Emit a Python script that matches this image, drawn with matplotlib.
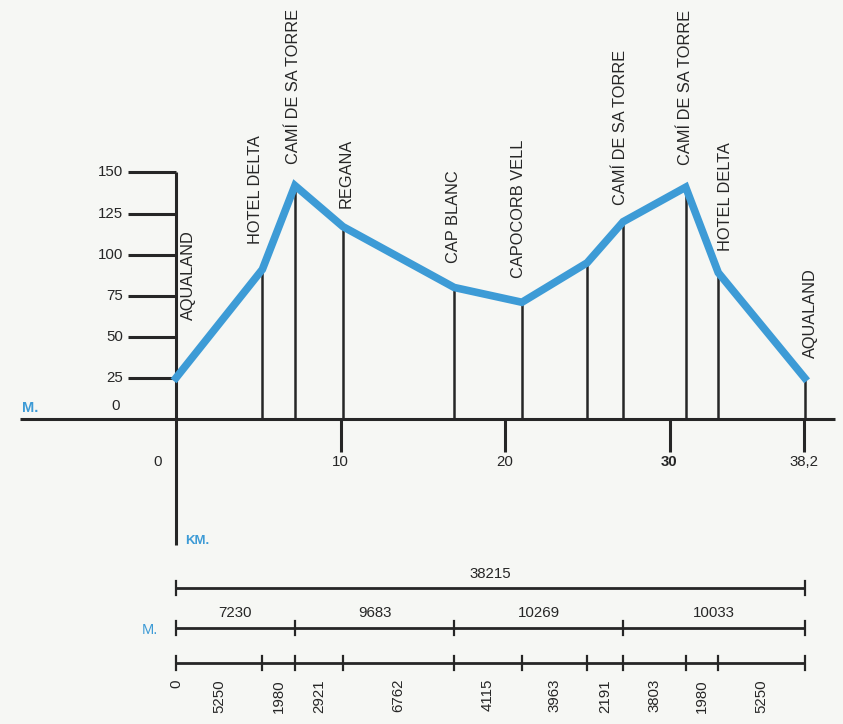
import matplotlib.pyplot as plt
import numpy as np
from matplotlib.transforms import blended_transform_factory

# route data
stop_names = ['AQUALAND', 'HOTEL DELTA', 'CAMÍ DE SA TORRE', 'REGANA', 'CAP BLANC',
              'CAPOCORB VELL', '', 'CAMÍ DE SA TORRE', 'CAMÍ DE SA TORRE',
              'HOTEL DELTA', 'AQUALAND']
seg_m = [0, 5250, 1980, 2921, 6762, 4115, 3963, 2191, 3803, 1980, 5250]
elev_m = [25, 91, 142, 117, 80, 71, 95, 120, 141, 89, 25]
stage_m = [7230, 9683, 10269, 10033]
stage_stops = [0, 2, 4, 7, 10]   # stops where each stage starts / ends
total_m = 38215
y_ticks = [25, 50, 75, 100, 125, 150]
km_ticks = [10, 20, 30, 38.2]
km_labels = ['10', '20', '30', '38,2']

# label nudges (pixels) relative to each stop
lab_dx = [12, -7, -1, 3, -1, -3, 0, -3, 0, 7, 6]
lab_dy = [58, 25, 22, 19, 24, 24, 0, 17, 22, 22, 20]

BLUE = '#3d9bd6'
INK = '#262626'
BG = '#f6f7f4'
plt.rcParams['font.family'] = ['Liberation Sans', 'DejaVu Sans']

W, H = 843, 724
X0, SX = 176, 16.45
Y0, SY = 419, 1.644

def px(p):
    return (p - X0) / SX

def py(p):
    return (Y0 - p) / SY

fig = plt.figure(figsize=(W / 100, H / 100), dpi=100, facecolor=BG)
ax = fig.add_axes([0, 0, 1, 1])
ax.set_facecolor(BG)
ax.set_xlim(px(0), px(W))
ax.set_ylim(py(H), py(0))
ax.set_axis_off()

km = np.cumsum(seg_m) / 1000.0

# axes
ax.plot([px(20), px(835)], [0, 0], color=INK, lw=2.2, solid_capstyle='butt')
ax.plot([0, 0], [150, py(545)], color=INK, lw=2.2, solid_capstyle='butt')
for t in y_ticks:
    ax.plot([px(128), 0], [t, t], color=INK, lw=2.2, solid_capstyle='butt')
    ax.text(px(123), t, str(t), ha='right', va='center', fontsize=10.8, color=INK)
ax.text(px(116), py(406), '0', ha='center', va='center', fontsize=10.8, color=INK)
ax.text(px(22), py(408), 'M.', ha='left', va='center', fontsize=10.5,
        color=BLUE, fontweight='bold')
ax.text(px(185), py(541), 'KM.', ha='left', va='center', fontsize=9.5,
        color=BLUE, fontweight='bold')

for t, lab in zip(km_ticks, km_labels):
    ax.plot([t, t], [0, py(452)], color=INK, lw=2.2, solid_capstyle='butt')
    ax.text(t, py(462), lab, ha='center', va='center', fontsize=10.8, color=INK,
            fontweight='bold' if lab == '30' else 'normal')
ax.text(px(158), py(462), '0', ha='center', va='center', fontsize=10.8, color=INK)

# stems
for x, e in zip(km[1:], elev_m[1:]):
    ax.plot([x, x], [0, e], color=INK, lw=1.8, solid_capstyle='butt')

# profile
ax.plot(km, elev_m, color=BLUE, lw=5.5, solid_joinstyle='miter', zorder=5)

# stop names
for x, e, name, dx, dy in zip(km, elev_m, stop_names, lab_dx, lab_dy):
    if not name:
        continue
    ax.annotate(name, (x, e), xytext=(dx, dy), textcoords='offset pixels',
                rotation=90, ha='center', va='bottom', fontsize=11.8, color=INK)

# distance bars
tr = blended_transform_factory(ax.transData, ax.transAxes)
def fy(p):
    return 1 - p / H

def bar(ypix, xs):
    ax.plot([xs[0], xs[-1]], [fy(ypix)] * 2, color=INK, lw=2, transform=tr,
            solid_capstyle='butt')
    for x in xs:
        ax.plot([x, x], [fy(ypix - 7), fy(ypix + 7)], color=INK, lw=1.6, transform=tr)

bar(588, [0, total_m / 1000.0])
ax.text(total_m / 2000.0, fy(574), str(total_m), transform=tr, ha='center',
        va='center', fontsize=10.8, color=INK)

stage_edges = km[stage_stops]
bar(628, stage_edges)
for a, b, v in zip(stage_edges[:-1], stage_edges[1:], stage_m):
    ax.text((a + b) / 2, fy(613), str(v), transform=tr, ha='center', va='center',
            fontsize=10.8, color=INK)
ax.text(px(142), fy(630), 'M.', transform=tr, ha='left', va='center',
        fontsize=10.5, color=BLUE)

bar(663, km)
ax.text(km[0], fy(679), '0', transform=tr, rotation=90, ha='center', va='top',
        fontsize=10.8, color=INK)
for a, b, v in zip(km[:-1], km[1:], seg_m[1:]):
    ax.text((a + b) / 2, fy(679), str(v), transform=tr, rotation=90, ha='center',
            va='top', fontsize=10.8, color=INK)

fig.savefig('out.png', dpi=100, facecolor=BG)
